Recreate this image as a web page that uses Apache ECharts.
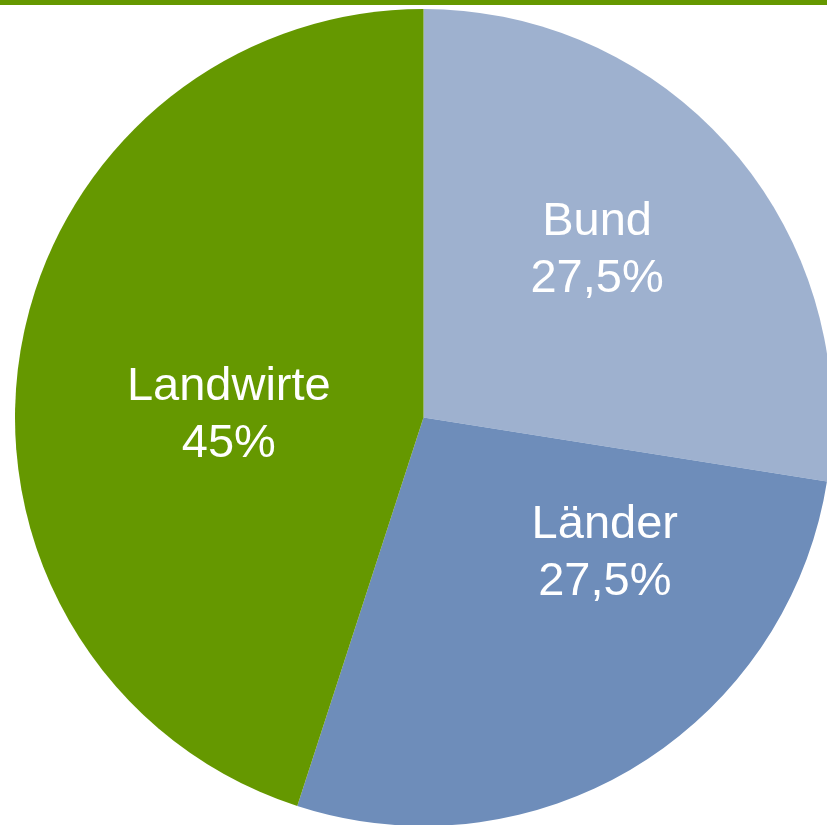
<!DOCTYPE html>
<html>
<head>
<meta charset="utf-8">
<script src="https://cdn.jsdelivr.net/npm/echarts@6/dist/echarts.min.js"></script>
<style>
  html, body { margin: 0; padding: 0; background: #fff; }
  #chart { width: 827px; height: 825px; }
</style>
</head>
<body>
<div id="chart"></div>
<script>
  // Verteilung der Kosten
  var names = ['Bund', 'Länder', 'Landwirte']
  var shares = [27.5, 27.5, 45]
  var colors = ['#9eb1cf', '#6e8dba', '#659800']
  // label nudges (px) so text sits like in the original slide
  var labelShift = [[16, -32], [73, -41], [10, 30]]

  var chart = echarts.init(document.getElementById('chart'))
  var options = {
    animation: false,
    graphic: [{
      type: 'rect',
      left: 0,
      top: 0,
      shape: { width: 827, height: 5 },
      style: { fill: '#659800' }
    }],
    series: [{
      type: 'pie',
      center: [423.5, 417.5],
      radius: 408.5,
      startAngle: 90,
      clockwise: true,
      avoidLabelOverlap: false,
      emphasis: { disabled: true },
      itemStyle: { borderWidth: 0 },
      label: {
        show: true,
        position: 'inside',
        color: '#fff',
        fontFamily: 'Liberation Sans',
        fontSize: 47,
        lineHeight: 57,
        formatter: function(p) {
          return p.name + '\n' + String(p.value).replace('.', ',') + '%'
        }
      },
      labelLine: { show: false },
      labelLayout: function(p) {
        var s = labelShift[p.dataIndex]
        return { dx: s[0], dy: s[1] }
      },
      data: names.map(function(n, i) {
        return { name: n, value: shares[i], itemStyle: { color: colors[i] } }
      })
    }]
  }
  chart.setOption(options, true)
</script>
</body>
</html>
